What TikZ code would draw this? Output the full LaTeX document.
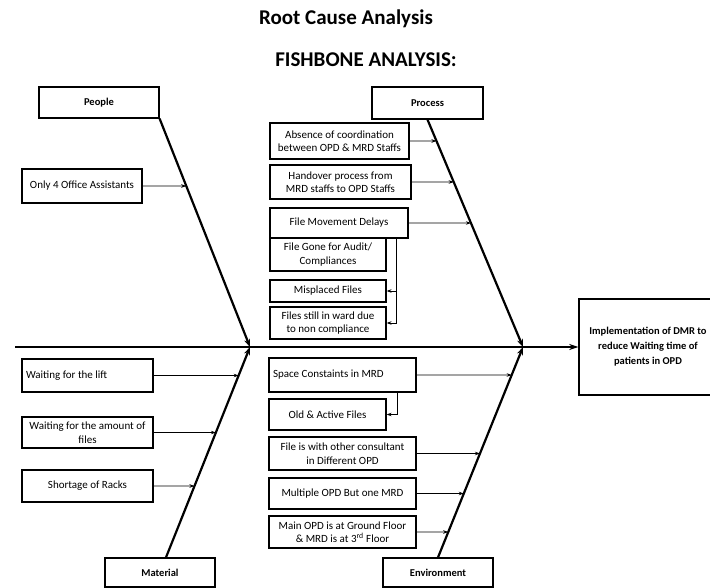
\documentclass[tikz,border=0pt]{standalone}
\usepackage{fontspec}
\setmainfont{Carlito}
\usetikzlibrary{arrows.meta,intersections}

\tikzset{
  catbox/.style 2 args={draw, line width=1.2pt, minimum width=#1, minimum height=#2,
    inner sep=2pt, font=\fontsize{10.5}{12}\selectfont\bfseries},
  causebox/.style 2 args={draw, line width=1.2pt, minimum width=#1, minimum height=#2,
    inner sep=2pt, align=center, font=\fontsize{11}{13.5}\selectfont},
  bone/.style={line width=2.2pt, -{Stealth[length=8pt,width=6pt]}},
  twig/.style={line width=0.8pt, -{Stealth[length=5pt,width=3.5pt]}},
}

\begin{document}
\begin{tikzpicture}[x=1pt, y=-1pt]
  \useasboundingbox (0,0) rectangle (710,588);

  \node (title) at (346,19) {\fontsize{21}{24}\selectfont\bfseries Root Cause Analysis};
  \node (fishbone) at (366,60) {\fontsize{21}{24}\selectfont\bfseries FISHBONE ANALYSIS:};

  % heads of the bones
  \node[catbox={120pt}{31pt}] (people) at (99,102.5) {People};
  \node[catbox={111pt}{32pt}] (process) at (427.5,103) {Process};
  \node[catbox={110pt}{29pt}] (material) at (160,572.5) {Material};
  \node[catbox={110pt}{29pt}] (environment) at (438,572.5) {Environment};
  \node[draw, line width=1.4pt, minimum width=138pt, minimum height=96pt, align=center,
    font=\fontsize{10.5}{15}\selectfont\bfseries] (effect) at (648,347)
    {Implementation of DMR to\\reduce Waiting time of\\patients in OPD};

  % spine
  \coordinate (tail) at (15,347);
  \coordinate (j1) at (250,347);
  \coordinate (j2) at (523,347);
  \coordinate (mtop) at ([xshift=6pt]material.north);
  \draw[line width=1.6pt, -{Stealth[length=9pt,width=6pt]}] (tail) -- (effect.west);

  \draw[bone] (people.south east) -- (j1);
  \draw[bone] (process.south) -- (j2);
  \draw[bone] (mtop) -- (j1);
  \draw[bone] (environment.north) -- (j2);

  % people
  \node[causebox={120pt}{34pt}] (oa) at (82,186) {Only 4 Office Assistants};

  % process
  \node[causebox={139pt}{36pt}] (coord) at (339.5,141) {Absence of coordination\\between OPD \& MRD Staffs};
  \node[causebox={141pt}{34pt}] (handover) at (340.5,182) {Handover process from\\MRD staffs to OPD Staffs};
  \node[causebox={138pt}{30pt}] (move) at (339,223) {File Movement Delays};
  \node[causebox={116pt}{33pt}] (audit) at (328,254.5) {File Gone for Audit/\\Compliances};
  \node[causebox={116pt}{22pt}] (misplaced) at (328,291) {Misplaced Files};
  \node[causebox={116pt}{32pt}] (ward) at (328,323) {Files still in ward due\\to non compliance};

  % material
  \node[causebox={131pt}{33pt}, text width=123pt, align=flush left] (lift) at (87.5,375.5) {Waiting for the lift};
  \node[causebox={131pt}{31pt}] (amount) at (87.5,432.5) {Waiting for the amount of\\files};
  \node[causebox={131pt}{32pt}] (racks) at (87.5,486) {Shortage of Racks};

  % environment
  \node[causebox={147pt}{34pt}, text width=139pt, align=flush left] (space) at (342.5,375) {Space Constaints in MRD};
  \node[causebox={117pt}{31pt}] (old) at (327.5,414.5) {Old \& Active Files};
  \node[causebox={147pt}{33pt}] (consult) at (342.5,453.5) {File is with other consultant\\in Different OPD};
  \node[causebox={147pt}{31pt}] (multi) at (342.5,493.5) {Multiple OPD But one MRD};
  \node[causebox={147pt}{32pt}] (floor) at (342.5,532) {Main OPD is at Ground Floor\\\& MRD is at 3\textsuperscript{rd} Floor};

  \foreach \cs/\from/\to in {oa/people.south east/j1, coord/process.south/j2,
                     handover/process.south/j2, move/process.south/j2,
                     lift/mtop/j1, amount/mtop/j1, racks/mtop/j1,
                     space/environment.north/j2, consult/environment.north/j2,
                     multi/environment.north/j2, floor/environment.north/j2}
  {
    \path[name path=bn] (\from) -- (\to);
    \path[name path=ray] (\cs.east) -- ++(200,0);
    \draw[twig, name intersections={of=bn and ray}] (\cs.east) -- (intersection-1);
  }

  \coordinate (mv) at ([xshift=-12pt]move.south east);
  \draw[twig] (mv) |- (ward.east);
  \draw[twig] (mv |- misplaced.east) -- (misplaced.east);
  \coordinate (sp) at ([xshift=-19pt]space.south east);
  \draw[twig] (sp) |- (old.east);
\end{tikzpicture}
\end{document}
